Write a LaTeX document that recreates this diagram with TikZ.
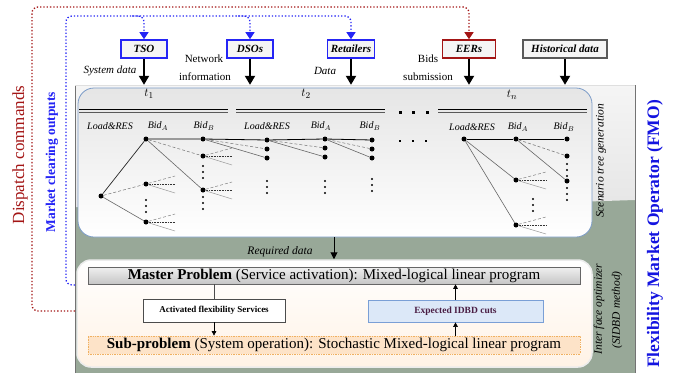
\documentclass[tikz,border=0pt]{standalone}
\usepackage{fontspec}
\setmainfont{Liberation Serif}
\usetikzlibrary{arrows.meta}
\definecolor{panelg}{HTML}{98A898}
\definecolor{bluel}{HTML}{2525F5}
\definecolor{redl}{HTML}{A31515}
\definecolor{fmob}{HTML}{1414E0}
\definecolor{scenb}{HTML}{7C9CC8}
\definecolor{expf}{HTML}{DCE8F8}
\definecolor{expb}{HTML}{7A9FD6}
\definecolor{expt}{HTML}{4A1E44}
\definecolor{subf}{HTML}{FDE3C8}
\definecolor{subb}{HTML}{F0B060}
\newcommand\fs[1]{\fontsize{#1}{#1}\selectfont}
\newcommand\vdd[2]{\fill (#1,#2) circle (1.1) (#1,#2+6) circle (1.1) (#1,#2+12) circle (1.1);}
\newcommand\fanout[2]{%
  \draw[fanA] (#1) -- ++(#2,-8);
  \draw[fanB] (#1) -- ++(#2,0);
  \draw[fanC] (#1) -- ++(#2,9);}
\begin{document}
\begin{tikzpicture}[x=1pt,y=-1pt,
  topbox/.style={draw,line width=1.6pt,fill=gray!8,font=\fs{11}\bfseries\itshape,minimum height=18,inner xsep=3,inner ysep=0},
  bigarr/.style={line width=2pt,-{Triangle[length=9pt,width=10pt]}},
  tnode/.style={circle,fill=black,inner sep=0,minimum size=5},
  collab/.style={font=\fs{10}\itshape},
  tlab/.style={font=\fs{12.5}},
  fanA/.style={gray,densely dashed,line width=0.5},
  fanB/.style={black!80,densely dotted,line width=0.6},
  fanC/.style={gray!80,line width=0.5},
  gline/.style={gray!80!black,line width=0.6},
  dline/.style={gray!90!black,densely dashed,line width=0.5},
  bdot/.style={bluel,dotted,line width=1.3pt,rounded corners=6,-{Triangle[length=7pt,width=9pt]}},
  rdot/.style={redl,dotted,line width=1.3pt,rounded corners=6,-{Triangle[length=7pt,width=9pt]}},
  midarr/.style={line width=0.6,-{Triangle[length=4.5pt,width=4.5pt]}},
  sidetxt/.style={rotate=90,font=\fs{11.5}\itshape}]
\useasboundingbox (0,0) rectangle (686,375);
% panel
\node[fill=panelg,minimum width=560,minimum height=288,inner sep=0] (panel) at (355,229) {};
\shade[top color=gray!8,bottom color=gray!20] (75,85) -- (635,85) -- (635,200) .. controls (450,206) and (250,212) .. (75,207) -- cycle;
\draw[black!55,line width=0.9] (75,373) -- (75,85);
\draw[black!55,line width=0.9] (635,373) -- (635,85);
\draw[gray!25,line width=0.9] (75,85) -- (635,85);
% scenario box
\node[draw=scenb,line width=0.8,rounded corners=16,top color=gray!20,bottom color=white,minimum width=514,minimum height=149,inner sep=0] (scen) at (335,162.5) {};
% interface box
\node[draw=gray!15,line width=1.5,rounded corners=14,top color=white,bottom color=orange!10!white,minimum width=515,minimum height=107,inner sep=0] (intf) at (334.5,313.5) {};
% top boxes
\node[topbox,draw=bluel,minimum width=46] (tso) at (144,49) {TSO};
\node[topbox,draw=bluel,minimum width=46] (dso) at (250,49) {DSOs};
\node[topbox,draw=bluel,minimum width=47] (ret) at (351,49) {Retailers};
\node[topbox,draw=redl,minimum width=53] (eer) at (469,49) {EERs};
\node[topbox,draw=black!65,minimum width=84] (hist) at (565,49) {Historical data};
\foreach \b in {tso,dso,ret,eer,hist} \draw[bigarr] (\b.south) -- (\b.south |- panel.north);
\node[font=\fs{11}\itshape] (sysd) at (110,71) {System data};
\node[font=\fs{11}] (netw) at (204,59) {Network};
\node[font=\fs{11}] (info) at (205,77) {information};
\node[font=\fs{11}\itshape] (datal) at (325,71) {Data};
\node[font=\fs{11}] (bids) at (428,59) {Bids};
\node[font=\fs{11}] (subm) at (428,77) {submission};
% feedback lines
\coordinate (bstart) at (75,285);
\coordinate (rstart) at (75,311);
\draw[bdot] (bstart) -- (66,285) -- (66,16) -| (ret.north);
\draw[bdot] (132,16) -| (tso.north);
\draw[bdot] (238,16) -| (dso.north);
\draw[rdot] (rstart) -- (32,311) -- (32,7) -| (eer.north);
% time headers
\node[tlab] (t1) at (149,94) {$t_1$};
\node[tlab] (t2) at (306,94) {$t_2$};
\node[tlab] (tn) at (512,95) {$t_n$};
\foreach \a/\b in {79/228,236/385,438/587}{
  \draw[black,line width=0.8] (\a,109) -- (\b,109);
  \draw[black!65,line width=1.5] (\a,112.5) -- (\b,112.5);}
\foreach \x in {400,413,427} \fill (\x-1.5,110.5) rectangle (\x+1.5,113.5);
\foreach \x in {400,413,426} \fill (\x-1.3,139.7) rectangle (\x+1.3,142.3);
% column labels
\node[collab] (c1) at (110,126) {Load\&RES};
\node[collab] (c2) at (158,126) {Bid$_A$};
\node[collab] (c3) at (204,126) {Bid$_B$};
\node[collab] (c4) at (267,126) {Load\&RES};
\node[collab] (c5) at (321,126) {Bid$_A$};
\node[collab] (c6) at (370,126) {Bid$_B$};
\node[collab] (c7) at (472,127) {Load\&RES};
\node[collab] (c8) at (518,127) {Bid$_A$};
\node[collab] (c9) at (564,127) {Bid$_B$};
% tree nodes
\node[tnode] (root) at (101,196) {};
\node[tnode] (a1) at (146,139) {};
\node[tnode] (a2) at (146,184) {};
\node[tnode] (a3) at (146,222) {};
\node[tnode] (b1) at (203,139) {};
\node[tnode] (b2) at (203,156) {};
\node[tnode] (b3) at (203,190) {};
\node[tnode] (l2a) at (267,140) {};
\node[tnode] (l2b) at (267,149) {};
\node[tnode] (l2c) at (267,158) {};
\node[tnode] (m2a) at (325,139) {};
\node[tnode] (m2b) at (325,148) {};
\node[tnode] (m2c) at (325,157) {};
\node[tnode] (r2a) at (372,140) {};
\node[tnode] (r2b) at (372,149) {};
\node[tnode] (r2c) at (372,158) {};
\node[tnode] (ln) at (464,139) {};
\node[tnode] (an1) at (516,139) {};
\node[tnode] (an2) at (516,180) {};
\node[tnode] (an3) at (516,225) {};
\node[tnode] (bn1) at (567,139) {};
\node[tnode] (bn2) at (567,156) {};
\node[tnode] (bn3) at (567,181) {};
% tree edges
\draw[black!85,line width=0.7] (root) -- (a1);
\draw[dline] (root) -- (a2);
\draw[gline] (root) -- (a3);
\draw[black,line width=0.8] (a1) -- (b1) -- (l2a) -- (m2a) -- (r2a);
\draw[dline] (a1) -- (b2);
\draw[gline] (a1) -- (b3);
\draw[dline] (b1) -- (l2b); \draw[gline] (b1) -- (l2c);
\draw[dline] (l2a) -- (m2b); \draw[gline] (l2a) -- (m2c);
\draw[dline] (m2a) -- (r2b); \draw[gline] (m2a) -- (r2c);
\draw[black,line width=0.8] (ln) -- (an1) -- (bn1);
\draw[gline] (ln) -- (an2);
\draw[gline] (ln) -- (an3);
\draw[dline] (an1) -- (bn2);
\draw[gline] (an1) -- (bn3);
\fanout{a2}{29}
\fanout{a3}{29}
\fanout{b2}{29}
\fanout{b3}{29}
\fanout{an2}{30}
\fanout{an3}{30}
\vdd{146}{200}
\vdd{203}{166}
\vdd{203}{197}
\vdd{267}{181}
\vdd{325}{181}
\vdd{372}{179}
\vdd{533}{199}
\vdd{567}{164}
\vdd{567}{188}
% side labels
\node[sidetxt] (stg) at (601,161) {Scenario tree generation};
\node[sidetxt] (io1) at (599,309) {Inter face optimizer};
\node[sidetxt] (io2) at (617,310) {(SIDBD method)};
\node[rotate=90,font=\fs{17},text=redl] (disp) at (20,155) {Dispatch commands};
\node[rotate=90,font=\fs{13.5}\bfseries,text=bluel] (mco) at (52,162) {Market clearing outputs};
\node[rotate=90,font=\fs{17.5}\bfseries,text=fmob] (fmo) at (655,234) {Flexibility Market Operator (FMO)};
% required data
\node[font=\fs{11.5}\itshape] (req) at (280,252) {Required data};
\draw[line width=1,-{Triangle[length=7pt,width=7pt]}] (scen.south -| 334,0) -- (intf.north -| 334,0);
% optimizer boxes
\node[draw=black!60,line width=0.6,top color=gray!12,bottom color=gray!45,minimum width=492,minimum height=17,inner sep=0,font=\fs{15}] (master) at (334,275.5) {\textbf{Master Problem} (Service activation): Mixed-logical linear program};
\node[draw=subb,densely dotted,line width=0.7,fill=subf,minimum width=492,minimum height=18,inner sep=0,font=\fs{15}] (sub) at (334,345) {\textbf{Sub-problem} (System operation): Stochastic Mixed-logical linear program};
\node[draw=black!70,line width=0.7,fill=white,minimum width=142,minimum height=23,inner sep=0,font=\fs{9}\bfseries] (act) at (214,310.5) {Activated flexibility Services};
\node[draw=expb,line width=0.7,fill=expf,minimum width=175,minimum height=22,inner sep=0,font=\fs{9.5}\bfseries,text=expt] (exp) at (455.5,311) {Expected IDBD cuts};
\draw[black!70,line width=0.6] (master.south -| act) -- (act.north);
\draw[midarr] (act.south) -- (sub.north -| act);
\draw[midarr] (sub.north -| exp) -- (exp.south);
\draw[midarr] (exp.north) -- (master.south -| exp);
\end{tikzpicture}
\end{document}
